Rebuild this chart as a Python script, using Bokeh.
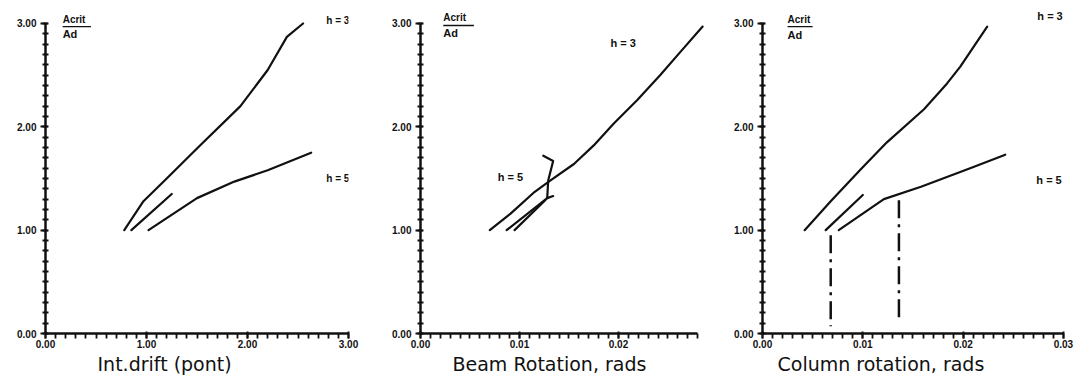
import numpy as np
from bokeh.plotting import figure
from bokeh.layouts import row
from bokeh.models import Range1d, FixedTicker, PrintfTickFormatter, Label, Title
from bokeh.embed import file_html
from bokeh.resources import INLINE

# ---- Int. drift panel ----
drift_upper_x = [0.78, 0.97, 1.20, 1.53, 1.93, 2.20, 2.39, 2.55]
drift_upper_y = [1.00, 1.28, 1.50, 1.82, 2.20, 2.55, 2.87, 3.00]
drift_mid_x = [0.85, 1.25]
drift_mid_y = [1.00, 1.35]
drift_lower_x = [1.02, 1.50, 1.87, 2.20, 2.63]
drift_lower_y = [1.00, 1.31, 1.47, 1.58, 1.75]

# ---- Beam rotation panel ----
beam_upper_x = [0.0070, 0.0091, 0.0114, 0.0131, 0.0155, 0.0175, 0.0195, 0.0219, 0.0242, 0.0263, 0.0285]
beam_upper_y = [1.00, 1.16, 1.36, 1.48, 1.64, 1.82, 2.03, 2.26, 2.50, 2.73, 2.97]
beam_mid_x = [0.0087, 0.0128, 0.0134]
beam_mid_y = [1.00, 1.31, 1.33]
beam_lower_x = [0.0095, 0.0126]
beam_lower_y = [1.00, 1.29]
beam_kink_x = [0.0128, 0.0129, 0.0134, 0.0124]
beam_kink_y = [1.31, 1.48, 1.67, 1.72]

# ---- Column rotation panel ----
col_upper_x = [0.0042, 0.0068, 0.0098, 0.0124, 0.0161, 0.0184, 0.0197, 0.0224]
col_upper_y = [1.00, 1.28, 1.59, 1.85, 2.17, 2.42, 2.58, 2.97]
col_mid_x = [0.0063, 0.0100]
col_mid_y = [1.00, 1.34]
col_lower_x = [0.0076, 0.0121, 0.0158, 0.0207, 0.0242]
col_lower_y = [1.00, 1.30, 1.42, 1.60, 1.73]
col_limit_x = [0.0068, 0.0136]
col_limit_top = [0.95, 1.29]
col_limit_bottom = [0.07, 0.11]

y_major = [0, 1, 2, 3]
Y_END = 3.145
INK = "#111111"


def make_panel(width, left, right, top, bottom, x_end, x_bound, x_major, x_step,
               x_title, title_offset):
    p = figure(width=width, height=381, title=None,
               x_range=Range1d(0, x_end), y_range=Range1d(0, Y_END),
               output_backend="svg", toolbar_location=None,
               min_border_left=left, min_border_right=right,
               min_border_top=top, min_border_bottom=bottom)
    p.grid.visible = False
    p.outline_line_color = None
    p.background_fill_color = "white"
    p.border_fill_color = "white"

    n_x = int(round(x_bound / x_step))
    x_minor = [round(i * x_step, 5) for i in range(n_x + 1)]
    y_minor = [round(i * 0.1, 3) for i in range(31)]
    p.xaxis.ticker = FixedTicker(ticks=x_major, minor_ticks=x_minor)
    p.yaxis.ticker = FixedTicker(ticks=y_major, minor_ticks=y_minor)
    p.xaxis.bounds = (0, x_bound)
    p.yaxis.bounds = (0, 3)
    p.xaxis.formatter = PrintfTickFormatter(format="%.2f")
    p.yaxis.formatter = PrintfTickFormatter(format="%.2f")

    for axes in (p.xaxis, p.yaxis):
        axes.axis_line_color = INK
        axes.axis_line_width = 2.5
        axes.major_tick_line_color = INK
        axes.major_tick_line_width = 2
        axes.minor_tick_line_color = INK
        axes.minor_tick_line_width = 1.8
        axes.major_tick_in = 2
        axes.major_tick_out = 5
        axes.major_label_text_font = "Liberation Sans"
        axes.major_label_text_font_style = "bold"
        axes.major_label_text_font_size = "10px"
        axes.major_label_text_color = INK
    p.xaxis.minor_tick_in = 0
    p.xaxis.minor_tick_out = 5
    p.yaxis.minor_tick_in = 3
    p.yaxis.minor_tick_out = 3
    p.xaxis.major_label_standoff = 1
    p.yaxis.major_label_standoff = 4

    t = Title(text=x_title, align="left", offset=title_offset,
              text_font="DejaVu Sans", text_font_size="19px",
              text_font_style="normal", text_color=INK, standoff=0)
    p.add_layout(t, "below")
    return p


def add_ratio_label(p, x, y_top, y_bot, x_rule_end, rule_y):
    p.add_layout(Label(x=x, y=y_top, text="Acrit", text_font="Liberation Sans",
                       text_font_size="10px", text_font_style="bold",
                       text_color=INK, text_baseline="bottom"))
    p.segment(x0=[x], y0=[rule_y], x1=[x_rule_end], y1=[rule_y],
              line_color=INK, line_width=1.4)
    p.add_layout(Label(x=x, y=y_bot, text="Ad", text_font="Liberation Sans",
                       text_font_size="11px", text_font_style="bold",
                       text_color=INK, text_baseline="bottom"))


def add_h_label(p, x, y, text, size="10px"):
    p.add_layout(Label(x=x, y=y, text=text, text_font="Liberation Sans",
                       text_font_size=size, text_font_style="bold",
                       text_color=INK, text_baseline="middle"))


def curve(p, xs, ys, width=2.2):
    p.line(xs, ys, line_color=INK, line_width=width, line_cap="round",
           line_join="round")


# Panel 1: inter-storey drift
p1 = make_panel(360, 45, 12, 5, 48, 3.0, 3.0, [0, 1, 2, 3], 0.1,
                "Int.drift (pont)", 52)
curve(p1, drift_upper_x, drift_upper_y)
curve(p1, drift_mid_x, drift_mid_y)
curve(p1, drift_lower_x, drift_lower_y)
add_ratio_label(p1, 0.17, 2.99, 2.84, 0.45, 2.97)
add_h_label(p1, 2.78, 3.03, "h = 3")
add_h_label(p1, 2.78, 1.50, "h = 5")

# Panel 2: beam rotation
p2 = make_panel(358, 60, 2, 6, 46, 0.0299, 0.028, [0, 0.01, 0.02], 0.001,
                "Beam Rotation, rads", 32)
curve(p2, beam_upper_x, beam_upper_y)
curve(p2, beam_mid_x, beam_mid_y)
curve(p2, beam_lower_x, beam_lower_y)
curve(p2, beam_kink_x, beam_kink_y)
add_ratio_label(p2, 0.0023, 3.00, 2.85, 0.0054, 2.98)
add_h_label(p2, 0.0192, 2.81, "h = 3", "11px")
add_h_label(p2, 0.0078, 1.51, "h = 5", "11px")

# Panel 3: column rotation
p3 = make_panel(370, 44, 8, 8, 44, 0.0317, 0.03, [0, 0.01, 0.02, 0.03], 0.001,
                "Column rotation, rads", 15)
curve(p3, col_upper_x, col_upper_y)
curve(p3, col_mid_x, col_mid_y)
curve(p3, col_lower_x, col_lower_y)
p3.segment(x0=col_limit_x, y0=col_limit_top, x1=col_limit_x, y1=col_limit_bottom,
           line_color=INK, line_width=2.5, line_dash="18 6 3 6")
add_ratio_label(p3, 0.0025, 2.99, 2.83, 0.0050, 2.97)
add_h_label(p3, 0.0274, 3.07, "h = 3", "11px")
add_h_label(p3, 0.0273, 1.49, "h = 5", "11px")

layout = row(p1, p2, p3)
open("out.html", "w").write(file_html(layout, INLINE))
